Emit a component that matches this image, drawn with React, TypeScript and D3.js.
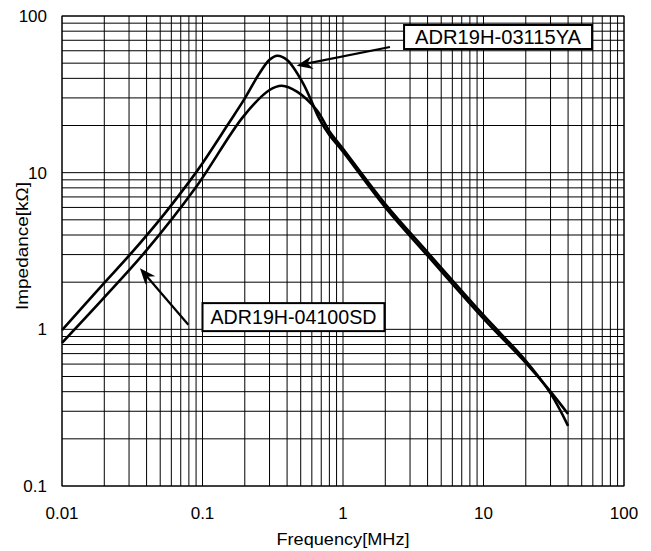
import React from "react";
import * as d3 from "d3";

// ---- data (frequency in MHz, impedance in kΩ) ----
const freq1 = [0.01, 0.02, 0.03, 0.05, 0.08, 0.1, 0.15, 0.2, 0.25, 0.3, 0.34, 0.4, 0.52, 0.68, 0.8, 1, 2, 4, 10, 20, 30, 40];
const imp1 = [0.99, 1.98, 2.95, 5.05, 8.7, 11.5, 20, 29.8, 42, 52.5, 55.8, 52.4, 37.2, 22.0, 17.4, 13.6, 6.0, 2.95, 1.17, 0.61, 0.4, 0.288];
const freq2 = [0.01, 0.02, 0.04, 0.09, 0.195, 0.3, 0.367, 0.47, 0.65, 0.8, 1, 2, 4, 10, 20, 30, 40];
const imp2 = [0.82, 1.6, 3.2, 8.1, 22.8, 33.7, 35.9, 32.9, 25.1, 18.4, 14.2, 6.3, 3.1, 1.23, 0.63, 0.39, 0.242];

const xTickValues = [0.01, 0.1, 1, 10, 100];
const xTickLabels = ["0.01", "0.1", "1", "10", "100"];
const yTickValues = [0.1, 1, 10, 100];
const yTickLabels = ["0.1", "1", "10", "100"];

const labelNames = ["ADR19H-03115YA", "ADR19H-04100SD"];
const labelBoxF = [2.72, 0.1];
const labelBoxZ = [87.6, 1.47];
const arrowTailF = [2.16, 0.0793];
const arrowTailZ = [63.4, 1.07];
const arrowTipF = [0.468, 0.0359];
const arrowTipZ = [48.2, 2.45];

const xTitle = "Frequency[MHz]";
const yTitle = "Impedance[kΩ]";

const W = 651;
const H = 551;
const M = { left: 62, right: 624, top: 16, bottom: 486 };
const FONT = "'Liberation Sans', Arial, sans-serif";

export default function App() {
  const x = d3.scaleLog().domain([0.01, 100]).range([M.left, M.right]);
  const y = d3.scaleLog().domain([0.1, 100]).range([M.bottom, M.top]);

  const line = d3
    .line<[number, number]>()
    .x((d) => x(d[0]))
    .y((d) => y(d[1]))
    .curve(d3.curveCatmullRom.alpha(0.5));

  const s1 = freq1.map((f, i) => [f, imp1[i]] as [number, number]);
  const s2 = freq2.map((f, i) => [f, imp2[i]] as [number, number]);

  const boxW = [188, 182];
  const boxH = [24, 28];

  const arrowHead = (tx: number, ty: number, hx: number, hy: number) => {
    const dx = hx - tx;
    const dy = hy - ty;
    const len = Math.sqrt(dx * dx + dy * dy);
    const ux = dx / len;
    const uy = dy / len;
    const px = -uy;
    const py = ux;
    const L = 16;
    const Wd = 6.5;
    const N = 11;
    const b1 = [hx - ux * L + px * Wd, hy - uy * L + py * Wd];
    const b2 = [hx - ux * L - px * Wd, hy - uy * L - py * Wd];
    const n = [hx - ux * N, hy - uy * N];
    return `M${hx},${hy}L${b1[0]},${b1[1]}L${n[0]},${n[1]}L${b2[0]},${b2[1]}Z`;
  };

  return (
    <svg
      width={W}
      height={H}
      style={{ position: "absolute", left: 0, top: 0, background: "#fff" }}
      fontFamily={FONT}
    >
      <rect x={0} y={0} width={W} height={H} fill="#fff" />
      {/* grid */}
      <g stroke="#000" strokeWidth={1} fill="none">
        {x.ticks().map((t, i) => (
          <line key={"gx" + i} x1={x(t)} x2={x(t)} y1={M.top} y2={M.bottom} />
        ))}
        {y.ticks().map((t, i) => (
          <line key={"gy" + i} x1={M.left} x2={M.right} y1={y(t)} y2={y(t)} />
        ))}
        <rect x={M.left} y={M.top} width={M.right - M.left} height={M.bottom - M.top} />
      </g>

      {/* curves */}
      <path d={line(s1) || ""} fill="none" stroke="#000" strokeWidth={2.6} strokeLinejoin="round" />
      <path d={line(s2) || ""} fill="none" stroke="#000" strokeWidth={2.6} strokeLinejoin="round" />

      {/* annotations */}
      {labelNames.map((name, i) => {
        const bx = x(labelBoxF[i]);
        const by = y(labelBoxZ[i]);
        const tx = x(arrowTailF[i]);
        const ty = y(arrowTailZ[i]);
        const hx = x(arrowTipF[i]);
        const hy = y(arrowTipZ[i]);
        const ux = (hx - tx) / Math.hypot(hx - tx, hy - ty);
        const uy = (hy - ty) / Math.hypot(hx - tx, hy - ty);
        return (
          <g key={name}>
            <line x1={tx} y1={ty} x2={hx - ux * 10} y2={hy - uy * 10} stroke="#000" strokeWidth={2.2} />
            <path d={arrowHead(tx, ty, hx, hy)} fill="#000" />
            <rect x={bx} y={by} width={boxW[i]} height={boxH[i]} fill="#fff" stroke="#000" strokeWidth={2} />
            <text
              x={bx + boxW[i] / 2}
              y={by + boxH[i] / 2 + 7}
              textAnchor="middle"
              fontSize={19.5}
              textLength={166}
              lengthAdjust="spacingAndGlyphs"
              fill="#000"
            >
              {name}
            </text>
          </g>
        );
      })}

      {/* tick labels */}
      <g fontSize={17} fill="#000">
        {xTickValues.map((t, i) => (
          <text key={"xt" + i} x={x(t)} y={519} textAnchor="middle">
            {xTickLabels[i]}
          </text>
        ))}
        {yTickValues.map((t, i) => (
          <text key={"yt" + i} x={47} y={y(t) + 6} textAnchor="end">
            {yTickLabels[i]}
          </text>
        ))}
      </g>

      {/* axis titles */}
      <text
        x={(M.left + M.right) / 2}
        y={545}
        textAnchor="middle"
        fontSize={16.5}
        textLength={133}
        lengthAdjust="spacingAndGlyphs"
      >
        {xTitle}
      </text>
      <text
        transform={`translate(28,${246}) rotate(-90)`}
        textAnchor="middle"
        fontSize={16.5}
        textLength={128}
        lengthAdjust="spacingAndGlyphs"
      >
        {yTitle}
      </text>
    </svg>
  );
}
